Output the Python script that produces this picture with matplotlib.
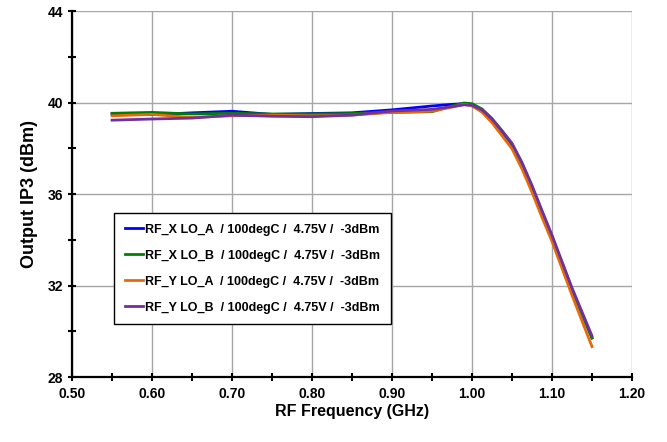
import numpy as np
import matplotlib.pyplot as plt
from matplotlib.ticker import MultipleLocator

plt.rcParams['font.family'] = ['Liberation Sans', 'DejaVu Sans']
plt.rcParams['font.weight'] = 'bold'

freq = [0.55, 0.60, 0.65, 0.70, 0.75, 0.80, 0.85, 0.90, 0.95, 0.975, 0.99, 1.00,
        1.0125, 1.025, 1.0375, 1.05, 1.0625, 1.075, 1.0875, 1.10, 1.125, 1.15]
ip3_x_a = [39.50, 39.47, 39.55, 39.62, 39.48, 39.52, 39.55, 39.68, 39.85, 39.92, 39.95, 39.90,
           39.68, 39.25, 38.72, 38.15, 37.30, 36.30, 35.20, 34.13, 31.82, 29.72]
ip3_x_b = [39.53, 39.57, 39.50, 39.53, 39.50, 39.50, 39.52, 39.57, 39.60, 39.85, 39.98, 39.95,
           39.72, 39.30, 38.76, 38.18, 37.32, 36.30, 35.20, 34.13, 31.82, 29.70]
ip3_y_a = [39.42, 39.48, 39.35, 39.42, 39.45, 39.42, 39.45, 39.57, 39.62, 39.80, 39.92, 39.85,
           39.58, 39.12, 38.55, 37.98, 37.10, 36.08, 34.98, 33.93, 31.58, 29.33]
ip3_y_b = [39.23, 39.28, 39.32, 39.45, 39.40, 39.38, 39.45, 39.63, 39.70, 39.82, 39.90, 39.88,
           39.68, 39.28, 38.77, 38.22, 37.38, 36.38, 35.28, 34.20, 31.90, 29.80]

labels = ['RF_X LO_A  / 100degC /  4.75V /  -3dBm',
          'RF_X LO_B  / 100degC /  4.75V /  -3dBm',
          'RF_Y LO_A  / 100degC /  4.75V /  -3dBm',
          'RF_Y LO_B  / 100degC /  4.75V /  -3dBm']
colors = ['#0000ff', '#008000', '#e36c09', '#7030a0']

fig = plt.figure(figsize=(6.67, 4.42), dpi=100)
ax = fig.add_axes([0.108, 0.147, 0.8395, 0.828])

for ys, c, lab in zip([ip3_x_a, ip3_x_b, ip3_y_a, ip3_y_b], colors, labels):
    ax.plot(freq, ys, color=c, lw=2.0, label=lab, solid_joinstyle='round')

ax.set_xlim(0.5, 1.2)
ax.set_ylim(28, 44)
ax.xaxis.set_minor_locator(MultipleLocator(0.05))
ax.yaxis.set_major_locator(MultipleLocator(4))
ax.yaxis.set_minor_locator(MultipleLocator(2))
ax.set_xticks(np.arange(0.5, 1.21, 0.1))
ax.set_xticklabels([f'{v:.2f}' for v in np.arange(0.5, 1.21, 0.1)])
ax.grid(True, which='major', color='#a6a6a6', lw=1)
ax.set_axisbelow(True)

for s in ['top', 'right']:
    ax.spines[s].set_visible(False)
for s in ['left', 'bottom']:
    ax.spines[s].set_linewidth(1.6)
ax.tick_params(which='both', direction='inout', length=6, width=1.5, labelsize=10)
ax.tick_params(axis='x', pad=4)

ax.set_xlabel('RF Frequency (GHz)', fontsize=11.5, fontweight='bold', labelpad=2)
ax.set_ylabel('Output IP3 (dBm)', fontsize=13, fontweight='bold', labelpad=7)

leg = ax.legend(loc='upper left', bbox_to_anchor=(0.075, 0.448),
                prop={'weight': 'bold', 'size': 9}, fancybox=False, edgecolor='black',
                framealpha=1, handlelength=1.5, handletextpad=0.15, labelspacing=1.12,
                borderpad=0.85, borderaxespad=0)
leg.get_frame().set_linewidth(1.0)

plt.savefig('out.png', dpi=100)
